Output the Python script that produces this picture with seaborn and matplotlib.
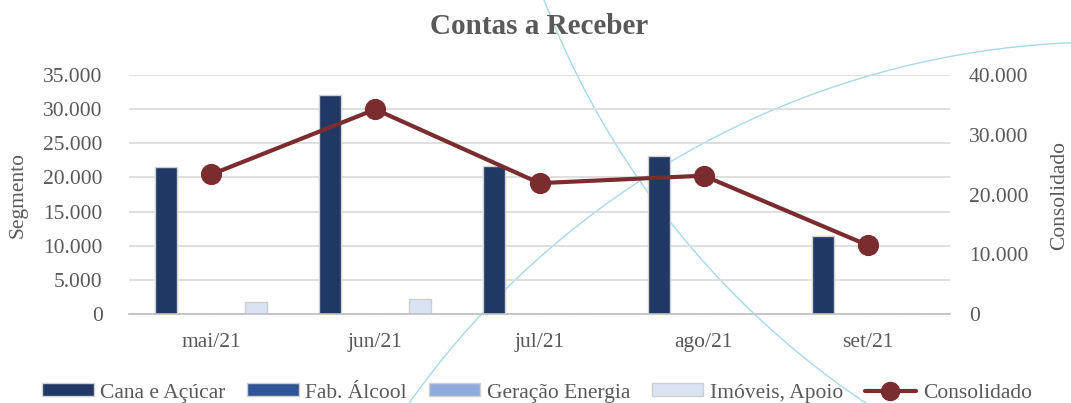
import matplotlib
matplotlib.use("Agg")
import matplotlib.pyplot as plt
import matplotlib.ticker as mticker
from matplotlib.patches import Patch, Circle
from matplotlib.lines import Line2D
import pandas as pd
import seaborn as sns

# --- Data ---
meses = ["mai/21", "jun/21", "jul/21", "ago/21", "set/21"]
segmentos = ["Cana e Açúcar", "Fab. Álcool", "Geração Energia", "Imóveis, Apoio"]
cana_acucar = [21600, 32000, 21650, 23150, 11450]
fab_alcool = [0, 0, 0, 0, 0]
geracao_energia = [0, 0, 0, 0, 0]
imoveis_apoio = [1750, 2250, 0, 0, 0]
consolidado = [23350, 34250, 21900, 23150, 11500]

cores = ["#1F3864", "#2F5597", "#8FAADC", "#DAE3F3"]
cor_linha = "#7B2C2F"
cinza = "#595959"
borda = "#D0D0D0"

df = pd.DataFrame({
    "mes": meses * 4,
    "segmento": [s for s in segmentos for _ in meses],
    "valor": cana_acucar + fab_alcool + geracao_energia + imoveis_apoio,
})


def fmt_milhar(v, pos=None):
    return f"{int(round(v)):,}".replace(",", ".")


sns.set_style("white")
plt.rcParams["font.family"] = ["Liberation Serif", "DejaVu Serif"]
plt.rcParams["text.color"] = cinza
plt.rcParams["axes.labelcolor"] = cinza
plt.rcParams["xtick.color"] = cinza
plt.rcParams["ytick.color"] = cinza

fig = plt.figure(figsize=(10.71, 4.03), dpi=100)

# decorative background arcs (figure pixel space)
bg = fig.add_axes([0, 0, 1, 1], zorder=0)
bg.set_xlim(0, 1071)
bg.set_ylim(403, 0)
bg.axis("off")
bg.add_patch(Circle((1342, -307), 855, fill=False, color="#A8D8EA", lw=1.0))
bg.add_patch(Circle((1107, 897), 855, fill=False, color="#A8D8EA", lw=1.0))

ax = fig.add_axes([129 / 1071, 1 - 314 / 403, 821 / 1071, 239 / 403], zorder=1)
ax.patch.set_visible(False)

sns.barplot(data=df, x="mes", y="valor", hue="segmento", order=meses,
            hue_order=segmentos, palette=cores, saturation=1,
            width=0.732, gap=0.27, edgecolor=borda, linewidth=1,
            legend=False, ax=ax)

ax2 = ax.twinx()
ax2.set_zorder(2)
ax2.patch.set_visible(False)
sns.pointplot(x=meses, y=consolidado, color=cor_linha, markers="o",
              markersize=13, linewidth=3, ax=ax2)

ax.set_ylim(0, 35000)
ax.yaxis.set_major_locator(mticker.MultipleLocator(5000))
ax.yaxis.set_major_formatter(mticker.FuncFormatter(fmt_milhar))
ax2.set_ylim(0, 40000)
ax2.yaxis.set_major_locator(mticker.MultipleLocator(10000))
ax2.yaxis.set_major_formatter(mticker.FuncFormatter(fmt_milhar))
ax.set_xlim(-0.5, 4.5)

ax.yaxis.grid(True, color="#D9D9D9", lw=1.2)
ax.set_axisbelow(True)
for s in ["top", "left", "right"]:
    ax.spines[s].set_visible(False)
for s in ["top", "left", "right", "bottom"]:
    ax2.spines[s].set_visible(False)
ax.spines["bottom"].set_color("#BFBFBF")
ax.spines["bottom"].set_linewidth(1.2)

fs = 15.5
ax.tick_params(axis="y", length=0, pad=19, labelsize=fs)
ax2.tick_params(axis="y", length=0, pad=13.5, labelsize=fs)
ax.set_xticks(range(len(meses)))
ax.set_xticks([i - 0.5 for i in range(len(meses) + 1)], minor=True)
ax.tick_params(axis="x", which="major", length=0, pad=14, labelsize=fs)
ax.tick_params(axis="x", which="minor", length=4.5, width=1.2, color="#BFBFBF")

ax.set_xlabel("")
ax.set_ylabel("")
ax2.set_ylabel("")
yc = 1 - 195 / 403
fig.text(18 / 1071, yc, "Segmento", rotation=90, ha="center", va="center",
         fontsize=fs, color=cinza)
fig.text(1060 / 1071, yc, "Consolidado", rotation=90, ha="center", va="center",
         fontsize=fs, color=cinza)

fig.text(539 / 1071, 1 - 27 / 403, "Contas a Receber", ha="center", va="center",
         fontsize=21, fontweight="bold", color=cinza)

handles = [Patch(facecolor=c, edgecolor=borda, lw=1) for c in cores]
handles.append(Line2D([], [], color=cor_linha, lw=3, marker="o", markersize=13))
fig.legend(handles, segmentos + ["Consolidado"], loc="center",
           bbox_to_anchor=(537 / 1071, 1 - 393 / 403), ncol=5, frameon=False,
           fontsize=fs, handlelength=2.4, handleheight=0.55,
           handletextpad=0.3, columnspacing=1.0)

fig.savefig("out.png", dpi=100)
